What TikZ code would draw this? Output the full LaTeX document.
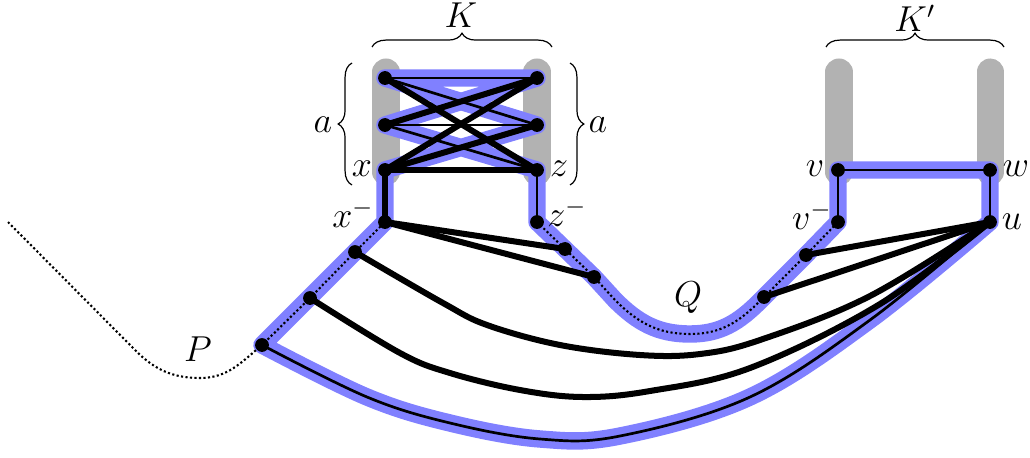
\documentclass[tikz,border=0pt]{standalone}
\usetikzlibrary{decorations.pathreplacing}
\begin{document}
\begin{tikzpicture}[x=0.333pt,y=-0.333pt,
  vtx/.style={circle,fill=black,inner sep=0pt,minimum size=4.6pt},
  lbl/.style={inner sep=0pt,font=\fontsize{11.5}{13}\selectfont},
  bar/.style={line width=9pt,line cap=round,draw=black!30},
  hl/.style={line width=5.8pt,draw=blue!50,line join=round,line cap=round},
  thk/.style={line width=2pt,line cap=round},
  thn/.style={line width=0.9pt,line cap=round},
  dotp/.style={line width=0.7pt,dash pattern=on 0.7pt off 0.8pt},
  brc/.style={decorate,decoration={brace,amplitude=4.6pt}},
]
\useasboundingbox (0,0) rectangle (1030,457);

% coordinates of vertices
\coordinate (l1) at (385,78);
\coordinate (l2) at (385,125);
\coordinate (x)  at (385,170);
\coordinate (r1) at (537,78);
\coordinate (r2) at (537,125);
\coordinate (z)  at (537,170);
\coordinate (xm) at (385,222);
\coordinate (zm) at (537,222);
\coordinate (v)  at (838,170);
\coordinate (w)  at (990,170);
\coordinate (vm) at (838,222);
\coordinate (u)  at (990,222);
\coordinate (p1) at (355,252);
\coordinate (p2) at (310,298);
\coordinate (p3) at (262,345);
\coordinate (q1) at (565,249);
\coordinate (q2) at (594,277);
\coordinate (q3) at (764,297);
\coordinate (q4) at (806,255);
% Q way points
\coordinate (qa) at (760,301);
\coordinate (qb) at (690,334);
\coordinate (qc) at (615,300);
% P way points
\coordinate (ps) at (8,222);
\coordinate (pa) at (135,350);
\coordinate (pb) at (200,378);

% gray bars
\draw[bar] (386,72) -- (386,172);
\draw[bar] (537,72) -- (537,172);
\draw[bar] (839,72) -- (839,172);
\draw[bar] (990,72) -- (990,172);

% blue highlighted cycle
\draw[hl] (x) -- (xm) -- (p3)
  -- plot[smooth,tension=0.6] coordinates {(p3) (367,397) (450,423) (540,439) (620,436) (750,397) (870,320) (u)}
  -- (w) -- (v) -- (vm) -- (q4) -- (q3) -- (qa) to[out=-135,in=0] (qb) to[out=180,in=-45] (qc)
  -- (q2) -- (q1) -- (zm) -- (z) -- (l2) -- (r1) -- (l1) -- (r2) -- (x);

% dotted paths P and Q
\draw[dotp] (ps) -- (pa) to[out=-45,in=180] (pb) to[out=0,in=-140] (p3) -- (p2) -- (p1) -- (xm);
\draw[dotp] (zm) -- (q1) -- (q2) -- (qc) to[out=-45,in=180] (qb) to[out=0,in=-135] (qa) -- (q3) -- (q4) -- (vm);

% edges in K
\draw[thn] (l1) -- (r1);
\draw[thn] (l1) -- (r2);
\draw[thn] (l2) -- (r2);
\draw[thn] (l2) -- (z);
\draw[thk] (l1) -- (z);
\draw[thk] (l2) -- (r1);
\draw[thk] (x) -- (r1);
\draw[thk] (x) -- (r2);
\draw[thk] (x) -- (z);

% other edges
\draw[thk] (x) -- (xm);
\draw[thn] (z) -- (zm);
\draw[thn] (v) -- (w);
\draw[thn] (v) -- (vm);
\draw[thn] (w) -- (u);
\draw[thk] (xm) -- (q1);
\draw[thk] (xm) -- (q2);
\draw[thk] (u) -- (q4);
\draw[thk] (u) -- (q3);
\draw[thk] plot[smooth,tension=0.6] coordinates {(p1) (443,303) (487,325) (560,345) (640,355) (700,354) (760,340) (870,296) (u)};
\draw[thk] plot[smooth,tension=0.6] coordinates {(p2) (400,353) (450,373) (520,390) (583,397) (650,391) (750,368) (880,304) (u)};
\draw[thn] plot[smooth,tension=0.6] coordinates {(p3) (367,397) (450,423) (540,439) (620,436) (750,397) (870,320) (u)};

% braces
\draw[brc] (372,47) -- (552,47);
\draw[brc] (826,47) -- (1004,47);
\draw[brc] (352,185) -- (352,63);
\draw[brc] (570,63) -- (570,185);

% vertex dots
\foreach \n in {l1,l2,x,r1,r2,z,xm,zm,v,w,vm,u,p1,p2,p3,q1,q2,q3,q4}
  \node[vtx] (d\n) at (\n) {};

% labels
\node[lbl] (lK)  at (461,15)  {$K$};
\node[lbl] (lKp) at (915,18)  {$K'$};
\node[lbl] (la1) at (323,125) {$a$};
\node[lbl] (la2) at (598,125) {$a$};
\node[lbl] (lx)  at (362,169) {$x$};
\node[lbl] (lz)  at (559,169) {$z$};
\node[lbl] (lxm) at (353,214) {$x^-$};
\node[lbl] (lzm) at (567,213) {$z^-$};
\node[lbl] (lv)  at (815,169) {$v$};
\node[lbl] (lw)  at (1016,169) {$w$};
\node[lbl] (lvm) at (812,216) {$v^-$};
\node[lbl] (lu)  at (1012,222) {$u$};
\node[lbl] (lP)  at (198,349) {$P$};
\node[lbl] (lQ)  at (688,298) {$Q$};
\end{tikzpicture}
\end{document}
